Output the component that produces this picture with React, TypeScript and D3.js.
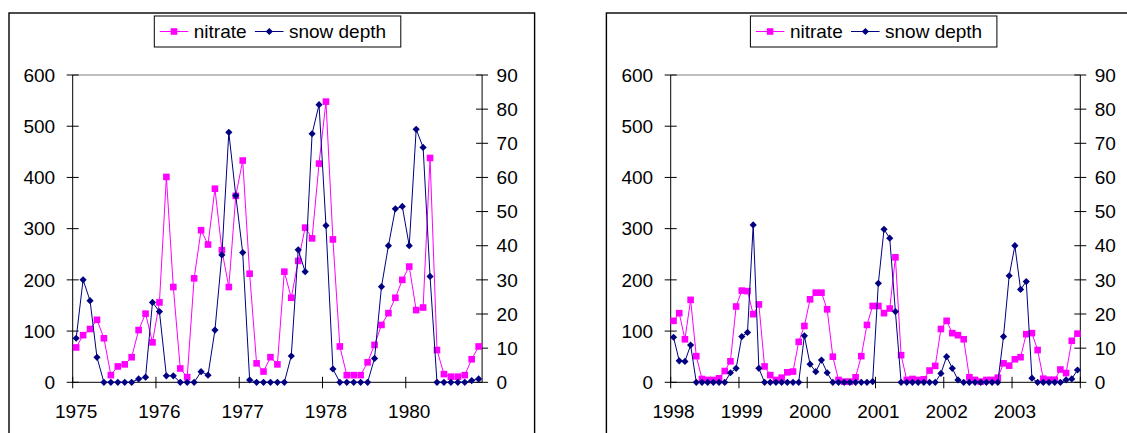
import React from "react";
import * as d3 from "d3";

// Monthly nitrate and snow depth, 1975–1980 record (59 months shown)
const nitrateEarly = [
  68, 92, 104, 122, 86, 14, 31, 35, 49, 102, 134, 78,
  156, 401, 186, 27, 10, 203, 297, 269, 378, 258, 186, 364,
  433, 212, 37, 21, 49, 35, 216, 165, 237, 302, 281, 427,
  548, 279, 70, 14, 14, 14, 39, 73, 112, 135, 165, 200,
  226, 141, 146, 438, 63, 16, 11, 11, 14, 45, 70,
];
const snowEarly = [
  12.9, 30, 23.9, 7.3, 0, 0, 0, 0, 0, 1, 1.5, 23.4,
  20.7, 1.9, 1.9, 0, 0, 0, 3.1, 2.1, 15.3, 37.3, 73.2, 54.7,
  38, 0.7, 0, 0, 0, 0, 0, 7.7, 38.8, 32.4, 72.8, 81.3,
  45.9, 3.9, 0, 0, 0, 0, 0, 7, 28, 40, 50.8, 51.5,
  40, 74.1, 68.8, 31, 0, 0, 0, 0, 0, 0.5, 1,
];
const yearsEarly = ["1975", "1976", "1977", "1978", "1980"];

// Monthly nitrate and snow depth, 1998–2003
const nitrateLate = [
  120, 135, 84, 161, 51, 6.5, 4.6, 4.6, 7.8, 22, 41, 148,
  179, 178, 133, 152, 31, 14, 4.6, 9, 19.5, 21, 79, 110,
  162, 175, 175, 142.5, 50, 4.6, 1.3, 1.3, 9.8, 51, 112, 149,
  149, 135, 144, 244, 53, 4.6, 6.5, 4.6, 5.9, 23, 32, 104,
  120, 96, 92, 84, 9.8, 4.6, 1.3, 4.6, 4.6, 9, 37, 32.5,
  45, 49, 94, 96, 63, 7, 5, 5, 25, 18, 81, 95,
];
const snowLate = [
  13.2, 6.3, 6.1, 10.9, 0, 0, 0, 0, 0, 0, 2.8, 4.1,
  13.4, 14.6, 46.1, 4.1, 0, 0, 0, 0, 0, 0, 0, 13.6,
  5.3, 3.1, 6.5, 2.8, 0, 0, 0, 0, 0, 0, 0, 0.2,
  29, 44.8, 42.2, 20.7, 0, 0, 0, 0, 0, 0, 0, 2.6,
  7.5, 4.1, 0.7, 0, 0, 0, 0, 0, 0, 0, 13.4, 31.2,
  40, 27.2, 29.5, 1.2, 0, 0, 0, 0, 0, 0.7, 1, 3.6,
];
const yearsLate = ["1998", "1999", "2000", "2001", "2002", "2003"];

const nitrateTicks = [0, 100, 200, 300, 400, 500, 600];
const snowTicks = [0, 10, 20, 30, 40, 50, 60, 70, 80, 90];
const seriesNames = ["nitrate", "snow depth"];

const W = 1127;
const H = 433;
const TOP = 75;
const BOTTOM = 382.3;
const FONT = "Arial, 'Liberation Sans', sans-serif";
const FS = 19;
const MAGENTA = "#FF00FF";
const NAVY = "#000080";

type PanelProps = {
  nitrate: number[];
  snow: number[];
  years: string[];
  left: number;
  right: number;
  frameX: number;
  frameW: number;
  legendX: number;
};

function Square({ x, y }: { x: number; y: number }) {
  const s = 6.6;
  return <rect x={x - s / 2} y={y - s / 2} width={s} height={s} fill={MAGENTA} />;
}

function Diamond({ x, y }: { x: number; y: number }) {
  const r = 3.6;
  return (
    <path
      d={`M${x},${y - r}L${x + r},${y}L${x},${y + r}L${x - r},${y}Z`}
      fill={NAVY}
    />
  );
}

function Panel({ nitrate, snow, years, left, right, frameX, frameW, legendX }: PanelProps) {
  const n = nitrate.length;
  const x = d3
    .scaleBand<number>()
    .domain(d3.range(n))
    .range([left, right])
    .paddingInner(0)
    .paddingOuter(0);
  const cx = (i: number) => (x(i) as number) + x.bandwidth() / 2;
  const yN = d3.scaleLinear().domain([0, 600]).range([BOTTOM, TOP]);
  const yS = d3.scaleLinear().domain([0, 90]).range([BOTTOM, TOP]);

  const lineN = d3.line<number>().x((_, i) => cx(i)).y((d) => yN(d));
  const lineS = d3.line<number>().x((_, i) => cx(i)).y((d) => yS(d));

  // tick marks on the category axis every 12 months
  const tickIdx = d3.range(0, n + 1, 12);
  const tickX = (k: number) => (k >= n ? right : (x(k) as number));

  const bw = 246.5;
  const bh = 31;
  const by = 16;
  const midY = by + bh / 2;

  return (
    <g>
      <rect
        x={frameX}
        y={13}
        width={frameW}
        height={520}
        fill="#fff"
        stroke="#000"
        strokeWidth={1.4}
      />
      {/* plot area top edge */}
      <line x1={left} x2={right} y1={TOP} y2={TOP} stroke="#808080" strokeWidth={1} />

      {/* left axis */}
      <line x1={left} x2={left} y1={TOP} y2={BOTTOM} stroke="#000" strokeWidth={1} />
      {nitrateTicks.map((t) => (
        <g key={`ln${t}`}>
          <line x1={left - 6} x2={left + 6} y1={yN(t)} y2={yN(t)} stroke="#000" strokeWidth={1} />
          <text
            x={left - 17.5}
            y={yN(t)}
            dy="0.35em"
            textAnchor="end"
            fontFamily={FONT}
            fontSize={FS}
            fill="#000"
          >
            {t}
          </text>
        </g>
      ))}

      {/* right axis */}
      <line x1={right} x2={right} y1={TOP} y2={BOTTOM} stroke="#000" strokeWidth={1} />
      {snowTicks.map((t) => (
        <g key={`rs${t}`}>
          <line x1={right - 6} x2={right + 6} y1={yS(t)} y2={yS(t)} stroke="#000" strokeWidth={1} />
          <text
            x={right + 14.5}
            y={yS(t)}
            dy="0.35em"
            textAnchor="start"
            fontFamily={FONT}
            fontSize={FS}
            fill="#000"
          >
            {t}
          </text>
        </g>
      ))}

      {/* category axis */}
      <line x1={left} x2={right} y1={BOTTOM} y2={BOTTOM} stroke="#000" strokeWidth={1} />
      {tickIdx.map((k) => (
        <line
          key={`xt${k}`}
          x1={tickX(k)}
          x2={tickX(k)}
          y1={BOTTOM - 5.5}
          y2={BOTTOM + 6}
          stroke="#000"
          strokeWidth={1}
        />
      ))}
      {years.map((yr, j) => (
        <text
          key={yr}
          x={cx(j * 12)}
          y={418.3}
          textAnchor="middle"
          fontFamily={FONT}
          fontSize={FS}
          fill="#000"
        >
          {yr}
        </text>
      ))}

      {/* nitrate series (primary axis) */}
      <path d={lineN(nitrate) ?? ""} fill="none" stroke={MAGENTA} strokeWidth={1} />
      {nitrate.map((v, i) => (
        <Square key={`n${i}`} x={cx(i)} y={yN(v)} />
      ))}

      {/* snow depth series (secondary axis) */}
      <path d={lineS(snow) ?? ""} fill="none" stroke={NAVY} strokeWidth={1} />
      {snow.map((v, i) => (
        <Diamond key={`s${i}`} x={cx(i)} y={yS(v)} />
      ))}

      {/* legend */}
      <rect x={legendX} y={by} width={bw} height={bh} fill="#fff" stroke="#000" strokeWidth={1} />
      <line x1={legendX + 5.5} x2={legendX + 34} y1={midY} y2={midY} stroke={MAGENTA} strokeWidth={1} />
      <Square x={legendX + 19.7} y={midY} />
      <text x={legendX + 39.5} y={by + 22} fontFamily={FONT} fontSize={FS} fill="#000">
        {seriesNames[0]}
      </text>
      <line x1={legendX + 100.6} x2={legendX + 129.2} y1={midY} y2={midY} stroke={NAVY} strokeWidth={1} />
      <Diamond x={legendX + 115} y={midY} />
      <text x={legendX + 134.6} y={by + 22} fontFamily={FONT} fontSize={FS} fill="#000">
        {seriesNames[1]}
      </text>
    </g>
  );
}

export default function App() {
  return (
    <svg
      width={W}
      height={H}
      viewBox={`0 0 ${W} ${H}`}
      style={{ position: "absolute", left: 0, top: 0, display: "block", background: "#fff" }}
    >
      <rect x={0} y={0} width={W} height={H} fill="#fff" />
      <Panel
        nitrate={nitrateEarly}
        snow={snowEarly}
        years={yearsEarly}
        left={72.7}
        right={482.1}
        frameX={9}
        frameW={525.6}
        legendX={154.3}
      />
      <Panel
        nitrate={nitrateLate}
        snow={snowLate}
        years={yearsLate}
        left={670.7}
        right={1080.3}
        frameX={606.4}
        frameW={600}
        legendX={750.4}
      />
    </svg>
  );
}
